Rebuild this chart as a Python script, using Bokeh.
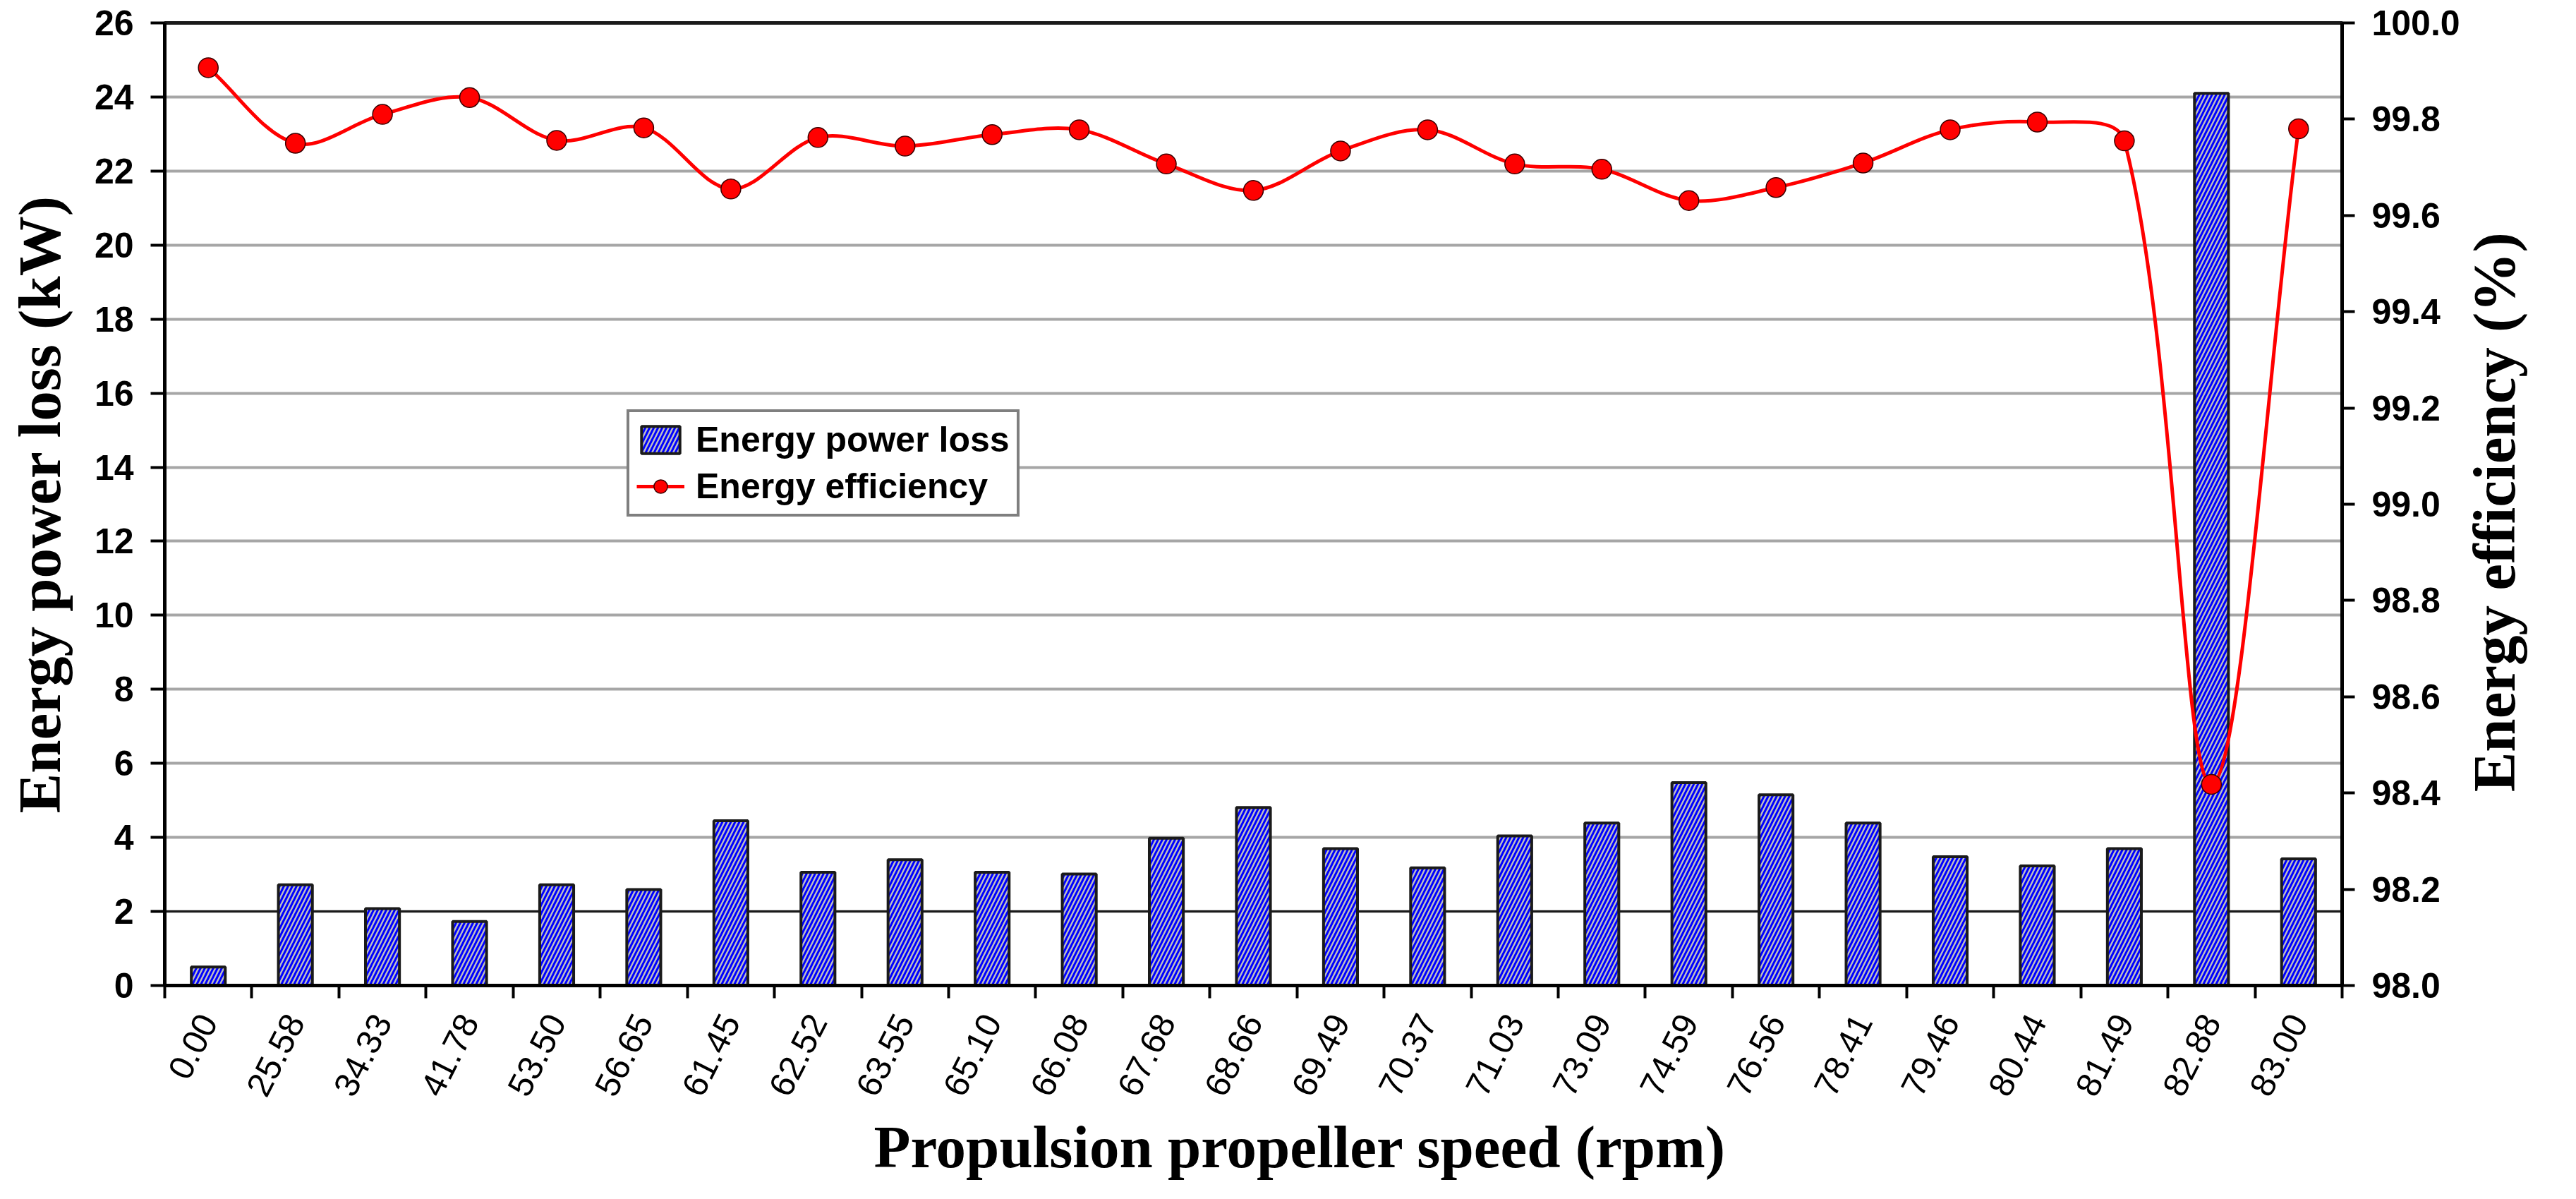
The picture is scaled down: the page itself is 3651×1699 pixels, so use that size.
import math
import numpy as np
from bokeh.plotting import figure
from bokeh.models import (Range1d, LinearAxis, FixedTicker, Legend, LegendItem,
                          Span, PrintfTickFormatter, Title)
from bokeh.embed import file_html
from bokeh.resources import INLINE

# ---------------- data ----------------
speeds = ["0.00", "25.58", "34.33", "41.78", "53.50", "56.65", "61.45", "62.52",
          "63.55", "65.10", "66.08", "67.68", "68.66", "69.49", "70.37", "71.03",
          "73.09", "74.59", "76.56", "78.41", "79.46", "80.44", "81.49", "82.88",
          "83.00"]
power_loss = [0.50, 2.72, 2.08, 1.73, 2.72, 2.59, 4.45, 3.06,
              3.40, 3.06, 3.01, 3.98, 4.81, 3.70, 3.18, 4.04,
              4.39, 5.48, 5.15, 4.39, 3.48, 3.23, 3.70, 24.10,
              3.42]
efficiency = [99.907, 99.750, 99.810, 99.845, 99.756, 99.782, 99.655, 99.762,
              99.744, 99.768, 99.778, 99.707, 99.652, 99.734, 99.778, 99.707,
              99.696, 99.631, 99.658, 99.709, 99.778, 99.794, 99.755, 98.418,
              99.780]
left_ticks = [0, 2, 4, 6, 8, 10, 12, 14, 16, 18, 20, 22, 24, 26]
right_ticks = [98.0, 98.2, 98.4, 98.6, 98.8, 99.0, 99.2, 99.4, 99.6, 99.8, 100.0]
x_title = "Propulsion propeller speed (rpm)"
left_title = "Energy power loss (kW)"
right_title = "Energy efficiency (%)"

n = len(speeds)
xs = np.arange(n, dtype=float)

W, H = 3635, 1683
MB_L, MB_R, MB_T, MB_B = 233, 316, 32, 287
p = figure(width=W, height=H, output_backend="svg", toolbar_location=None,
           x_range=Range1d(-0.5, n - 0.5), y_range=Range1d(0, 26),
           min_border_left=MB_L, min_border_right=MB_R, min_border_top=MB_T,
           min_border_bottom=MB_B)
p.extra_y_ranges = {"eff": Range1d(98.0, 100.0), "ttl": Range1d(0, 1000)}
p.background_fill_color = "white"
p.border_fill_color = "white"
p.outline_line_color = "#1a1a1a"
p.outline_line_width = 5

# ---------------- grid ----------------
p.xgrid.visible = False
p.ygrid.ticker = FixedTicker(ticks=left_ticks)
p.ygrid.grid_line_color = "#a6a6a6"
p.ygrid.grid_line_width = 4
p.add_layout(Span(location=2, dimension="width", line_color="#1a1a1a",
                  line_width=3, level="underlay"))

# ---------------- x axis ----------------
xa = p.xaxis[0]
xa.ticker = FixedTicker(ticks=list(xs), minor_ticks=list(xs - 0.5) + [n - 0.5])
xa.major_label_overrides = {int(i): s for i, s in enumerate(speeds)}
xa.major_tick_out = 0
xa.major_tick_in = 0
xa.minor_tick_out = 18
xa.minor_tick_in = 0
xa.minor_tick_line_width = 4
xa.minor_tick_line_color = "black"
xa.axis_line_width = 5
xa.axis_line_color = "black"
xa.major_label_orientation = 1.1
xa.major_label_standoff = 26
xa.major_label_text_font = "Liberation Sans"
xa.major_label_text_font_size = "49px"
xa.major_label_text_color = "black"

# x-axis title (shifted right like the reference)
p.add_layout(Title(text=x_title, align="left", offset=1005,
                   text_font="Liberation Serif", text_font_style="bold",
                   text_font_size="85px", text_color="black", standoff=16),
             "below")

# ---------------- left axis ----------------
ya = p.yaxis[0]
ya.ticker = FixedTicker(ticks=left_ticks, minor_ticks=[])
ya.major_tick_out = 20
ya.major_tick_in = 0
ya.major_tick_line_width = 4
ya.major_tick_line_color = "black"
ya.axis_line_width = 5
ya.axis_line_color = "black"
ya.major_label_standoff = 24
ya.major_label_text_font = "Liberation Sans"
ya.major_label_text_font_style = "bold"
ya.major_label_text_font_size = "50px"
ya.major_label_text_color = "black"
ya.axis_label = left_title
ya.axis_label_text_font = "Liberation Serif"
ya.axis_label_text_font_style = "bold"
ya.axis_label_text_font_size = "85px"
ya.axis_label_text_color = "black"
ya.axis_label_standoff = 28

# ---------------- right axis ----------------
ra = LinearAxis(y_range_name="eff",
                ticker=FixedTicker(ticks=right_ticks, minor_ticks=[]),
                formatter=PrintfTickFormatter(format="%.1f"))
ra.major_tick_out = 18
ra.major_tick_in = 0
ra.major_tick_line_width = 4
ra.major_tick_line_color = "black"
ra.axis_line_width = 5
ra.axis_line_color = "black"
ra.major_label_standoff = 24
ra.major_label_text_font = "Liberation Sans"
ra.major_label_text_font_style = "bold"
ra.major_label_text_font_size = "50px"
ra.major_label_text_color = "black"
p.add_layout(ra, "right")

# right-axis title, reading bottom-to-top, as a single rotated label
ta = LinearAxis(y_range_name="ttl",
                ticker=FixedTicker(ticks=[201], minor_ticks=[]))
ta.major_label_overrides = {201: right_title}
ta.major_label_orientation = math.pi / 2
ta.major_tick_out = 0
ta.major_tick_in = 0
ta.axis_line_color = None
ta.major_label_standoff = 46
ta.major_label_text_font = "Liberation Serif"
ta.major_label_text_font_style = "bold"
ta.major_label_text_font_size = "85px"
ta.major_label_text_color = "black"
p.add_layout(ta, "right")

# ---------------- bars ----------------
bars = p.vbar(x=xs, top=power_loss, width=0.39, bottom=0,
              fill_color="#c0c0c0", hatch_pattern="/", hatch_color="#0000ff",
              hatch_scale=12, hatch_weight=3,
              line_color="#1a1a1a", line_width=4)

# ---------------- smoothed efficiency line (length-weighted Bezier) ----------------
frame_w = W - MB_L - MB_R
frame_h = H - MB_T - MB_B
px_x = frame_w / float(n)          # screen px per category
px_y = frame_h / 2.0               # screen px per 1 % efficiency
ey = np.array(efficiency)
i0 = np.arange(n - 1)
ip = np.maximum(i0 - 1, 0)
i2 = i0 + 1
i3 = np.minimum(i0 + 2, n - 1)

def dist(a, b):
    return np.hypot((xs[b] - xs[a]) * px_x, (ey[b] - ey[a]) * px_y)

d01 = dist(ip, i0)
d12 = dist(i0, i2)
d23 = dist(i2, i3)
r1 = d12 / (d01 + d12) / 3.0
r2 = d12 / (d12 + d23) / 3.0
cx0 = xs[i0] + (xs[i2] - xs[ip]) * r1
cy0 = ey[i0] + (ey[i2] - ey[ip]) * r1
cx1 = xs[i2] - (xs[i3] - xs[i0]) * r2
cy1 = ey[i2] - (ey[i3] - ey[i0]) * r2
p.bezier(x0=xs[i0], y0=ey[i0], x1=xs[i2], y1=ey[i2],
         cx0=cx0, cy0=cy0, cx1=cx1, cy1=cy1,
         line_color="#ff0000", line_width=5, y_range_name="eff")
leg_line = p.line(x=xs[:1], y=ey[:1], line_color="#ff0000", line_width=5,
                  y_range_name="eff")
pts = p.scatter(x=xs, y=efficiency, size=28, marker="circle",
                fill_color="#ff0000", line_color="#3a0000", line_width=1.5,
                y_range_name="eff")

# ---------------- legend ----------------
legend = Legend(items=[LegendItem(label="Energy power loss", renderers=[bars]),
                       LegendItem(label="Energy efficiency",
                                  renderers=[leg_line, pts])],
                location=(655, 664))
legend.border_line_color = "black"
legend.border_line_width = 4
legend.background_fill_color = "white"
legend.background_fill_alpha = 1.0
legend.label_text_font = "Liberation Sans"
legend.label_text_font_style = "bold"
legend.label_text_font_size = "50px"
legend.label_text_color = "black"
legend.glyph_width = 68
legend.glyph_height = 48
legend.label_height = 58
legend.label_standoff = 16
legend.padding = 10
legend.spacing = 8
legend.margin = 0
p.add_layout(legend)

open("out.html", "w").write(file_html(p, INLINE))
